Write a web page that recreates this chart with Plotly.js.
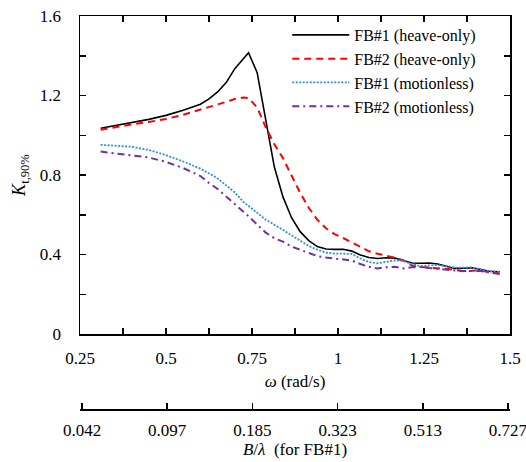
<!DOCTYPE html>
<html>
<head>
<meta charset="utf-8">
<script src="https://cdn.plot.ly/plotly-3.0.1.min.js"></script>
<style>html,body{margin:0;padding:0;background:#fff;}#chart{width:526px;height:462px;}</style>
</head>
<body>
<div id="chart"></div>
<script>
const omega = [0.31,0.35,0.40,0.45,0.50,0.55,0.60,0.625,0.65,0.675,0.70,0.725,0.74,0.765,0.79,0.815,0.84,0.865,0.89,0.915,0.94,0.965,0.99,1.015,1.04,1.065,1.09,1.115,1.14,1.165,1.19,1.215,1.24,1.265,1.29,1.315,1.34,1.365,1.39,1.415,1.44,1.47];
const fb1Heave = [1.035,1.047,1.063,1.080,1.100,1.126,1.156,1.183,1.218,1.265,1.335,1.385,1.415,1.315,1.08,0.84,0.69,0.585,0.515,0.47,0.44,0.428,0.426,0.426,0.417,0.398,0.385,0.38,0.384,0.382,0.37,0.357,0.356,0.357,0.352,0.34,0.33,0.331,0.333,0.325,0.316,0.313];
const fb2Heave = [1.028,1.038,1.054,1.067,1.082,1.103,1.128,1.142,1.155,1.168,1.182,1.19,1.187,1.14,1.04,0.955,0.885,0.80,0.71,0.635,0.575,0.532,0.503,0.483,0.46,0.44,0.416,0.404,0.394,0.384,0.37,0.345,0.337,0.335,0.332,0.328,0.322,0.316,0.318,0.321,0.309,0.306];
const fb1Still = [0.952,0.948,0.942,0.926,0.900,0.868,0.832,0.808,0.783,0.748,0.712,0.665,0.645,0.608,0.575,0.55,0.525,0.497,0.47,0.443,0.424,0.41,0.405,0.405,0.403,0.38,0.362,0.356,0.363,0.37,0.368,0.352,0.342,0.345,0.347,0.342,0.334,0.334,0.335,0.325,0.315,0.313];
const fb2Still = [0.918,0.91,0.90,0.888,0.866,0.835,0.795,0.76,0.73,0.69,0.655,0.615,0.592,0.55,0.51,0.482,0.465,0.44,0.423,0.405,0.392,0.385,0.38,0.378,0.37,0.352,0.338,0.33,0.336,0.338,0.33,0.336,0.337,0.332,0.327,0.324,0.32,0.317,0.317,0.317,0.31,0.302];
const seriesNames = ['FB#1 (heave-only)','FB#2 (heave-only)','FB#1 (motionless)','FB#2 (motionless)'];
const xTickVals = [0.25,0.375,0.5,0.625,0.75,0.875,1,1.125,1.25,1.375,1.5];
const xTickText = ['0.25','','0.5','','0.75','','1','','1.25','','1.5'];
const yTickVals = [0,0.2,0.4,0.6,0.8,1.0,1.2,1.4,1.6];
const yTickText = ['0','','0.4','','0.8','','1.2','','1.6'];
const bTickVals = [0.25,0.5,0.75,1,1.25,1.5];
const bTickText = ['0.042','0.097','0.185','0.323','0.513','0.727'];

const FONT = 'Liberation Serif, Times New Roman, serif';
const TF = 17;
const TC = '#000';
const traces = [
  {x: omega, y: fb1Heave, name: seriesNames[0], mode: 'lines', line: {color: '#000000', width: 1.6}},
  {x: omega, y: fb2Heave, name: seriesNames[1], mode: 'lines', line: {color: '#ff0000', width: 2, dash: '7px,5px'}},
  {x: omega, y: fb1Still, name: seriesNames[2], mode: 'lines', line: {color: '#2f8fe0', width: 1.8, dash: '2px,1.5px'}},
  {x: omega, y: fb2Still, name: seriesNames[3], mode: 'lines', line: {color: '#7030a0', width: 2, dash: '7px,4px,2px,4px'}},
  {x: [], y: [], xaxis: 'x2', yaxis: 'y2', showlegend: false, hoverinfo: 'skip'}
];
const layout = {
  width: 526, height: 462,
  margin: {l: 80, r: 16, t: 16, b: 53},
  paper_bgcolor: '#ffffff', plot_bgcolor: '#ffffff',
  font: {family: FONT, size: TF, color: '#000'},
  showlegend: true,
  legend: {x: 0.482, y: 0.995, xanchor: 'left', yanchor: 'top', bgcolor: 'rgba(0,0,0,0)', font: {family: FONT, size: 16}, tracegroupgap: 0, itemwidth: 57},
  xaxis: {
    range: [0.25, 1.5], tickvals: xTickVals, ticktext: xTickText,
    ticks: 'inside', ticklen: 6, tickwidth: 1.5, tickcolor: TC,
    showline: true, linewidth: 1.5, linecolor: '#000', mirror: 'ticks',
    showgrid: false, zeroline: false, anchor: 'y', ticklabelstandoff: 8, ticklabeloverflow: 'allow',
    title: {text: '<i>ω</i> (rad/s)', font: {family: FONT, size: TF}, standoff: 8},
    tickfont: {family: FONT, size: TF}
  },
  xaxis2: {
    range: [0.244, 1.506], anchor: 'y2', side: 'bottom',
    tickvals: bTickVals, ticktext: bTickText,
    ticks: 'inside', ticklen: 6, tickwidth: 1.5, tickcolor: TC,
    showline: true, linewidth: 1.5, linecolor: '#000', showgrid: false, zeroline: false,
    ticklabelstandoff: 5, ticklabeloverflow: 'allow',
    title: {text: '<i>B</i>/<i>λ</i>  (for FB#1)', font: {family: FONT, size: TF}, standoff: 4},
    tickfont: {family: FONT, size: TF}
  },
  yaxis2: {
    domain: [0, 0.02], range: [0, 1], visible: false, showgrid: false, zeroline: false, anchor: 'x2'
  },
  yaxis: {
    range: [0, 1.6], domain: [0.1908, 1], tickvals: yTickVals, ticktext: yTickText,
    ticks: 'inside', ticklen: 6, tickwidth: 1.5, tickcolor: TC,
    showline: true, linewidth: 1.5, linecolor: '#000', mirror: 'ticks',
    showgrid: false, zeroline: false, ticklabelstandoff: 14,
    title: {text: '<i>K</i><sub>t,90%</sub>', font: {family: FONT, size: 18}, standoff: 9},
    tickfont: {family: FONT, size: TF}
  }
};
Plotly.newPlot('chart', traces, layout, {displayModeBar: false, staticPlot: true});
</script>
</body>
</html>
